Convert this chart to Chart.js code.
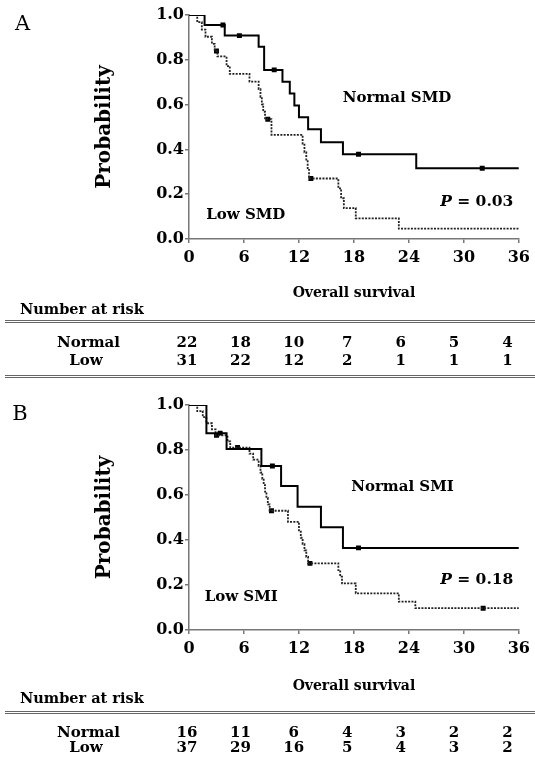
<!DOCTYPE html>
<html><head><meta charset="utf-8">
<script src="https://cdn.jsdelivr.net/npm/chart.js@4/dist/chart.umd.min.js"></script>
<style>
html,body{margin:0;padding:0;background:#fff;}
body{width:535px;height:766px;position:relative;overflow:hidden;font-family:"DejaVu Serif",serif;color:#000;}
canvas{position:absolute;left:0;}
.t{position:absolute;white-space:nowrap;line-height:1;transform:translate(-50%,-50%);}
.tl{position:absolute;white-space:nowrap;line-height:1;transform:translate(0,-50%);}
.b{font-weight:bold;}
.rule{position:absolute;left:5px;width:530px;height:0;border-top:3px double #666;}
</style></head><body>
<canvas id="cA" width="535" height="305" style="top:0px"></canvas>
<canvas id="cB" width="535" height="310" style="top:385px"></canvas>
<div id="txt"></div>
<script>
// ---------- data ----------
const monthTicks = [0, 6, 12, 18, 24, 30, 36];
const probTicks = [0, 0.2, 0.4, 0.6, 0.8, 1.0];

// Panel A: skeletal muscle density (SMD)
const normalSMD_t = [0, 1.7, 3.9, 7.6, 8.2, 10.2, 11.0, 11.5, 12.0, 13.0, 14.4, 16.8, 24.8, 36];
const normalSMD_s = [1.0, 0.955, 0.908, 0.858, 0.755, 0.702, 0.649, 0.596, 0.543, 0.490, 0.432, 0.378, 0.316, 0.316];
const normalSMD_cens = [3.7, 5.5, 9.3, 18.5, 32.0];

const lowSMD_t = [0, 0.9, 1.4, 1.8, 2.5, 2.8, 3.1, 4.1, 4.45, 6.6, 7.6, 7.8, 7.95, 8.1, 8.3, 9.0, 12.4, 12.6, 12.8, 12.95, 13.1, 16.3, 16.6, 16.9, 18.2, 22.9, 36];
const lowSMD_s = [1.0, 0.968, 0.935, 0.903, 0.871, 0.839, 0.815, 0.772, 0.737, 0.703, 0.669, 0.635, 0.601, 0.568, 0.535, 0.465, 0.426, 0.387, 0.348, 0.309, 0.270, 0.226, 0.182, 0.138, 0.092, 0.046, 0.046];
const lowSMD_cens = [3.0, 8.6, 13.3];

// Panel B: skeletal muscle index (SMI)
const normalSMI_t = [0, 1.9, 4.1, 7.9, 10.05, 11.85, 14.4, 16.8, 36];
const normalSMI_s = [1.0, 0.875, 0.805, 0.729, 0.640, 0.548, 0.457, 0.365, 0.365];
const normalSMI_cens = [3.4, 9.1, 18.5];

const lowSMI_t = [0, 0.9, 1.5, 1.9, 2.5, 2.9, 4.2, 4.5, 6.6, 7.0, 7.6, 7.8, 8.0, 8.15, 8.3, 8.45, 8.6, 8.8, 10.8, 12.0, 12.2, 12.4, 12.6, 12.8, 13.0, 16.3, 16.5, 16.7, 18.2, 22.9, 24.7, 36];
const lowSMI_s = [1.0, 0.973, 0.946, 0.919, 0.892, 0.865, 0.838, 0.811, 0.784, 0.757, 0.729, 0.700, 0.672, 0.644, 0.615, 0.587, 0.558, 0.530, 0.481, 0.437, 0.410, 0.382, 0.354, 0.325, 0.296, 0.266, 0.237, 0.207, 0.163, 0.126, 0.097, 0.097];
const lowSMI_cens = [3.0, 5.3, 9.0, 13.2, 32.1];

// Number at risk
const riskNormalA = [22, 18, 10, 7, 6, 5, 4];
const riskLowA = [31, 22, 12, 2, 1, 1, 1];
const riskNormalB = [16, 11, 6, 4, 3, 2, 2];
const riskLowB = [37, 29, 16, 5, 4, 3, 2];

// ---------- helpers ----------
const FONT = '"DejaVu Serif", serif';
function pts(ts, ss) { return ts.map((t, i) => ({x: t, y: ss[i]})); }
function stepAt(ts, ss, t) { let v = ss[0]; for (let i = 0; i < ts.length; i++) if (ts[i] <= t) v = ss[i]; return v; }
function cens(ts, ss, cs) { return cs.map(c => ({x: c, y: stepAt(ts, ss, c)})); }

const annPlugin = {
  id: 'ann',
  afterDatasetsDraw(chart, args, opts) {
    const {ctx} = chart, xs = chart.scales.x, ys = chart.scales.y;
    ctx.save();
    ctx.fillStyle = '#000';
    ctx.textBaseline = 'middle';
    ctx.textAlign = 'left';
    for (const a of opts.items) {
      const px = xs.getPixelForValue(a.t), py = ys.getPixelForValue(a.s);
      const fonts = a.parts.map(p => (p.italic ? 'italic ' : '') + 'bold ' + a.size + 'px ' + FONT);
      const widths = a.parts.map((p, i) => { ctx.font = fonts[i]; return ctx.measureText(p.text).width; });
      const total = widths.reduce((s, w) => s + w, 0);
      let sx = a.align === 'right' ? px - total : (a.align === 'center' ? px - total / 2 : px);
      a.parts.forEach((p, i) => { ctx.font = fonts[i]; ctx.fillText(p.text, sx, py); sx += widths[i]; });
    }
    ctx.restore();
  }
};

function makeChart(id, d) {
  const H = d.height;
  return new Chart(document.getElementById(id), {
    type: 'line',
    data: {
      datasets: [
        {data: pts(d.nT, d.nS), stepped: true, borderColor: '#000', borderWidth: 2, pointRadius: 0, fill: false},
        {data: pts(d.lT, d.lS), stepped: true, borderColor: '#222', borderWidth: 1.8, borderDash: [2, 1.3], pointRadius: 0, fill: false},
        {data: cens(d.nT, d.nS, d.nC), showLine: false, pointStyle: 'rect', pointRadius: 3.5, pointBackgroundColor: '#000', pointBorderWidth: 0},
        {data: cens(d.lT, d.lS, d.lC), showLine: false, pointStyle: 'rect', pointRadius: 3.5, pointBackgroundColor: '#000', pointBorderWidth: 0}
      ]
    },
    options: {
      responsive: false,
      animation: false,
      events: [],
      layout: {padding: {top: d.padTop, right: 13, left: 0, bottom: 0}},
      plugins: {legend: {display: false}, tooltip: {enabled: false}, ann: {items: d.ann}},
      scales: {
        x: {
          type: 'linear', min: 0, max: 36,
          afterBuildTicks: s => { s.ticks = monthTicks.map(v => ({value: v})); },
          afterFit: s => { s.height = H - d.plotBottom; },
          ticks: {font: {family: FONT, weight: 'bold', size: 16}, color: '#000', padding: 5, maxRotation: 0, autoSkip: false},
          grid: {display: true, drawOnChartArea: false, drawTicks: true, tickLength: 4, color: '#777', lineWidth: 1.5},
          border: {display: true, color: '#777', width: 1.5},
          title: {display: true, text: 'Overall survival', color: '#000', font: {family: FONT, weight: 'bold', size: 14}, padding: {top: 0, bottom: d.xTitlePad}}
        },
        y: {
          type: 'linear', min: 0, max: 1,
          afterBuildTicks: s => { s.ticks = probTicks.map(v => ({value: v})); },
          afterFit: s => { s.width = 189; },
          ticks: {font: {family: FONT, weight: 'bold', size: 16}, color: '#000', padding: 1, callback: v => Number(v).toFixed(1)},
          grid: {display: true, drawOnChartArea: false, drawTicks: true, tickLength: 4, color: '#777', lineWidth: 1.5},
          border: {display: true, color: '#777', width: 1.5},
          title: {display: true, text: 'Probability', color: '#000', font: {family: FONT, weight: 'bold', size: 20}, padding: {top: 93, bottom: 0}}
        }
      }
    },
    plugins: [annPlugin]
  });
}

makeChart('cA', {
  height: 305, padTop: 15, plotBottom: 239, xTitlePad: 3.6,
  nT: normalSMD_t, nS: normalSMD_s, nC: normalSMD_cens,
  lT: lowSMD_t, lS: lowSMD_s, lC: lowSMD_cens,
  ann: [
    {parts: [{text: 'Normal SMD'}], t: 22.7, s: 0.63, align: 'center', size: 15},
    {parts: [{text: 'Low SMD'}], t: 6.2, s: 0.107, align: 'center', size: 15},
    {parts: [{text: 'P', italic: true}, {text: ' = 0.03'}], t: 35.4, s: 0.167, align: 'right', size: 15.5}
  ]
});
makeChart('cB', {
  height: 310, padTop: 20, plotBottom: 245, xTitlePad: 0.6,
  nT: normalSMI_t, nS: normalSMI_s, nC: normalSMI_cens,
  lT: lowSMI_t, lS: lowSMI_s, lC: lowSMI_cens,
  ann: [
    {parts: [{text: 'Normal SMI'}], t: 23.3, s: 0.633, align: 'center', size: 15},
    {parts: [{text: 'Low SMI'}], t: 5.7, s: 0.147, align: 'center', size: 15},
    {parts: [{text: 'P', italic: true}, {text: ' = 0.18'}], t: 35.4, s: 0.222, align: 'right', size: 15.5}
  ]
});

// ---------- HTML text (panel letters, number-at-risk tables) ----------
const txt = document.getElementById('txt');
function put(text, x, y, size, bold, left) {
  const e = document.createElement('div');
  e.className = (left ? 'tl' : 't') + (bold ? ' b' : '');
  e.style.left = x + 'px'; e.style.top = y + 'px'; e.style.fontSize = size + 'px';
  e.textContent = text; txt.appendChild(e);
}
function rule(y) { const e = document.createElement('div'); e.className = 'rule'; e.style.top = y + 'px'; txt.appendChild(e); }
const colX = i => 187 + i * 53.4;
function table(y0, yN, yL, nArr, lArr) {
  put('Number at risk', 20, y0, 14.5, true, true);
  put('Normal', 88.5, yN, 15, true);
  put('Low', 86, yL, 15, true);
  nArr.forEach((v, i) => put(String(v), colX(i), yN, 15, true));
  lArr.forEach((v, i) => put(String(v), colX(i), yL, 15, true));
}
put('A', 22.5, 23, 21, false);
put('B', 20, 412.5, 21, false);
table(309, 342, 360, riskNormalA, riskLowA);
rule(320); rule(375);
table(698, 732, 747, riskNormalB, riskLowB);
rule(711);
</script>
</body></html>
